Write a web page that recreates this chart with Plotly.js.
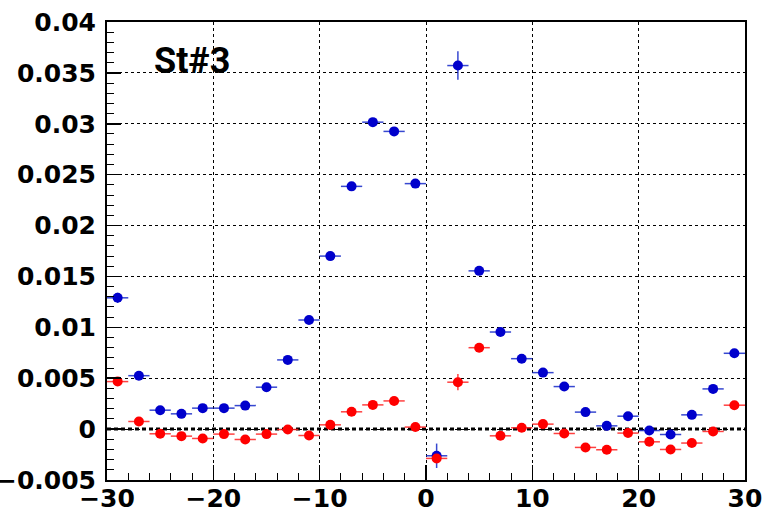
<!DOCTYPE html>
<html>
<head>
<meta charset="utf-8">
<script src="https://cdn.plot.ly/plotly-3.0.1.min.js"></script>
<style>html,body{margin:0;padding:0;background:#fff;}#chart{width:762px;height:515px;}</style>
</head>
<body>
<div id="chart"></div>
<script>
// Bin centres (bin width 2)
const binCenters = [-29,-27,-25,-23,-21,-19,-17,-15,-13,-11,-9,-7,-5,-3,-1,1,3,5,7,9,11,13,15,17,19,21,23,25,27,29];
const binHalfWidth = [1];

// Blue series
const blueValues = [0.0129,0.00525,0.00186,0.0015,0.00206,0.00206,0.00231,0.00412,0.0068,0.01072,
                    0.0170,0.02385,0.03016,0.02925,0.02412,-0.00262,0.03572,0.01555,0.00954,0.00692,
                    0.00555,0.00418,0.00167,0.00032,0.00127,-0.00014,-0.00053,0.0014,0.00395,0.00745];
const blueErrors = [0.0005,0.0003,0.0002,0.0002,0.0002,0.0002,0.0002,0.0002,0.0003,0.0003,
                    0.0003,0.0003,0.0003,0.0003,0.0003,0.0012,0.0014,0.0003,0.0003,0.0003,
                    0.0003,0.0003,0.0002,0.0002,0.0002,0.0002,0.0002,0.0002,0.0002,0.0003];

// Red series
const redValues = [0.00467,0.00075,-0.00046,-0.00069,-0.00092,-0.00049,-0.00102,-0.00049,-0.00004,-0.00063,
                   0.00042,0.0017,0.00238,0.00277,0.0002,-0.00288,0.00461,0.0080,-0.00066,0.00013,
                   0.00049,-0.00043,-0.0018,-0.00203,-0.00039,-0.00125,-0.0020,-0.00137,-0.00023,0.00235];
const redErrors = [0.0003,0.0002,0.0002,0.0002,0.0002,0.0002,0.0002,0.0002,0.0002,0.0002,
                   0.0002,0.0002,0.0002,0.0002,0.0002,0.0004,0.0008,0.0003,0.0002,0.0002,
                   0.0002,0.0002,0.0002,0.0002,0.0002,0.0002,0.0002,0.0002,0.0002,0.0002];

const referenceLevel = 0;
const labelText = "St#3";

function series(y, err, color, barColor) {
  return {
    type: 'scatter', mode: 'markers',
    x: binCenters, y: y,
    marker: {color: color, size: 10, symbol: 'circle'},
    error_y: {type: 'data', array: err, visible: true, color: barColor, thickness: 1.5, width: 0},
    error_x: {type: 'constant', value: binHalfWidth[0], visible: true, color: barColor, thickness: 1.5, width: 0},
    hoverinfo: 'x+y', showlegend: false
  };
}

const data = [
  series(blueValues, blueErrors, '#0000cc', 'rgba(20,40,200,0.85)'),
  series(redValues, redErrors, '#ff0000', 'rgba(255,30,30,0.85)')
];

const tickFont = {family: 'DejaVu Sans', size: 25, color: '#000', weight: 'bold'};

const layout = {
  width: 762, height: 515,
  margin: {l: 107, r: 17, t: 22, b: 35, pad: 0},
  paper_bgcolor: '#fff', plot_bgcolor: '#fff',
  showlegend: false,
  xaxis: {
    range: [-30, 30], tick0: -30, dtick: 10,
    ticks: 'inside', ticklen: 15, tickwidth: 1.5, tickcolor: '#000',
    showline: true, linecolor: '#000', linewidth: 2, mirror: true,
    showgrid: true, gridcolor: '#000', gridwidth: 1, griddash: 'dot',
    zeroline: false,
    tickfont: tickFont,
    ticklabelstandoff: -5,
    ticklabeloverflow: 'allow',
    minor: {dtick: 2, ticks: 'inside', ticklen: 7, tickwidth: 1, tickcolor: '#000', showgrid: false}
  },
  yaxis: {
    range: [-0.005, 0.04], tick0: 0, dtick: 0.005,
    ticks: 'inside', ticklen: 14, tickwidth: 1.5, tickcolor: '#000',
    showline: true, linecolor: '#000', linewidth: 2, mirror: true,
    showgrid: true, gridcolor: '#000', gridwidth: 1, griddash: 'dot',
    zeroline: false,
    tickfont: tickFont,
    ticklabelstandoff: 4,
    ticklabeloverflow: 'allow',
    minor: {dtick: 0.001, ticks: 'inside', ticklen: 7, tickwidth: 1, tickcolor: '#000', showgrid: false}
  },
  shapes: [{
    type: 'line', xref: 'paper', x0: 0, x1: 1, yref: 'y', y0: referenceLevel, y1: referenceLevel,
    line: {color: '#000', width: 3, dash: '4px,3px'}, layer: 'below'
  }],
  annotations: [{
    xref: 'paper', yref: 'paper', x: 0.133, y: 0.915, xanchor: 'center', yanchor: 'middle',
    text: labelText, showarrow: false,
    font: {family: 'Roboto', size: 36, color: '#000', weight: 'bold'}
  }]
};

Plotly.newPlot('chart', data, layout, {staticPlot: true, displayModeBar: false});
</script>
</body>
</html>
